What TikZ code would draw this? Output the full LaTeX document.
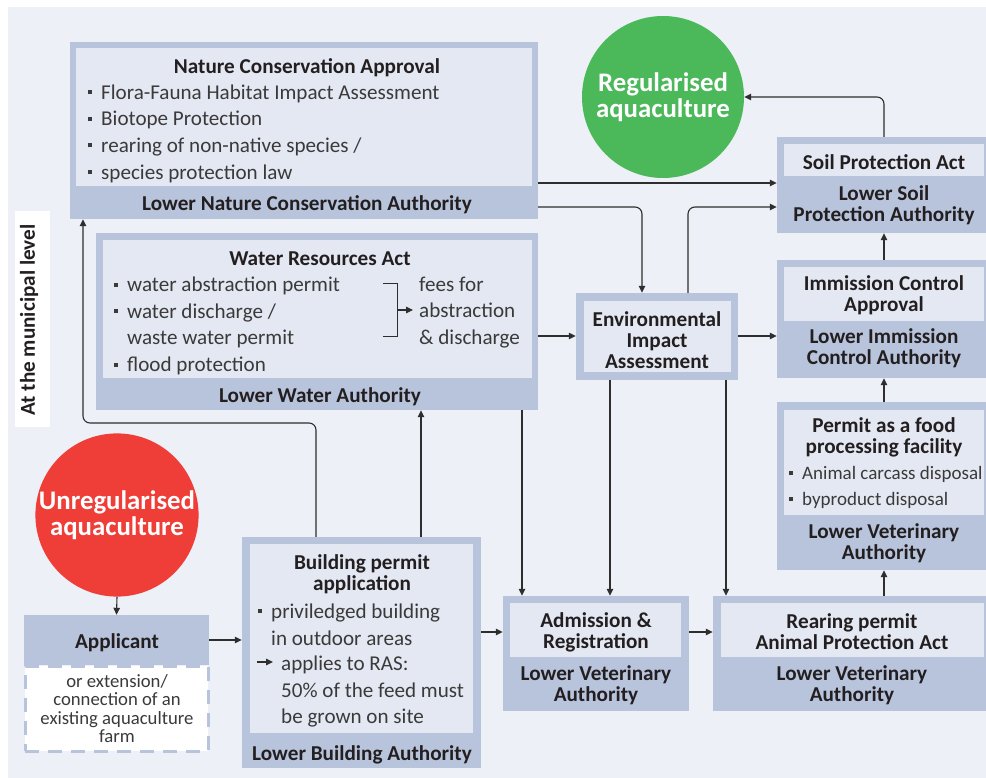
\documentclass[tikz,border=0pt]{standalone}
\usepackage{xcolor}
\usepackage{fontspec}
\setmainfont{Carlito}
\usepackage{tikz}
\usetikzlibrary{arrows.meta}

\definecolor{bgcol}{HTML}{EDF0F6}
\definecolor{outerblue}{HTML}{B8C4DC}
\definecolor{innerblue}{HTML}{E4E8F2}
\definecolor{txtdark}{HTML}{231F20}
\definecolor{txtlight}{HTML}{3A3A3A}
\definecolor{linegray}{HTML}{2E2E2E}
\definecolor{regreen}{HTML}{4BB85A}
\definecolor{unred}{HTML}{EE3E37}

\newcommand{\sqbul}{\rule[5pt]{4pt}{4pt}\hspace{9pt}}

\begin{document}
\begin{tikzpicture}[x=1pt, y=-1pt,
    outer/.style={fill=outerblue, inner sep=0pt},
    inner/.style={fill=innerblue, inner sep=0pt},
    head/.style={font=\bfseries\fontsize{21.2}{21}\selectfont, text=txtdark, align=center, inner sep=0pt, yshift=-2pt},
    items/.style={font=\fontsize{21.1}{26.6}\selectfont, text=txtlight, align=left, inner sep=0pt, anchor=west, yshift=-2.5pt},
    arr/.style={draw=linegray, line width=1.1pt, -{Triangle[length=7pt,width=6.5pt]}},
    circ/.style={circle, minimum size=162pt, inner sep=0pt, text=white, align=center,
      font=\bfseries\fontsize{26.8}{26}\selectfont}]
  \useasboundingbox (0,0) rectangle (986,778);
  \fill[bgcol] (8,7) rectangle (986,778);

  % side label
  \node[fill=white, minimum width=35pt, minimum height=216pt, inner sep=0pt] (levelbox) at (32.5,319) {};
  \node[head, rotate=90, yshift=2pt] (level) at (31,318) {At the municipal level};

  % circles
  \node[circ, fill=regreen] (reg) at (663,97) {Regularised\\aquaculture};
  \node[circ, fill=unred] (unreg) at (117,515) {Unregularised\\aquaculture};

  % nature conservation
  \node[outer, minimum width=468pt, minimum height=177pt] (nca) at (304,130.5) {};
  \node[inner, minimum width=456pt, minimum height=138pt] (ncaIn) at (304,117) {};
  \node[head] (ncaT) at (307,66) {Nature Conservation Approval};
  \node[items] (ncaL) at (88,131) {\sqbul Flora-Fauna Habitat Impact Assessment\\
    \sqbul Biotope Protection\\ \sqbul rearing of non-native species /\\ \sqbul species protection law};
  \node[head] (ncaA) at (307,203) {Lower Nature Conservation Authority};

  % water resources
  \node[outer, minimum width=442pt, minimum height=177pt] (wra) at (317,321.5) {};
  \node[inner, minimum width=429pt, minimum height=138pt] (wraIn) at (317.5,309) {};
  \node[head] (wraT) at (320,257) {Water Resources Act};
  \node[items] (wraL) at (114,323.5) {\sqbul water abstraction permit\\ \sqbul water discharge /\\
    \phantom{\sqbul}waste water permit\\ \sqbul flood protection};
  \node[items] (fees) at (419,310) {fees for\\abstraction\\\& discharge};
  \draw[linegray, line width=0.8pt] (383,283) -| (397,336) -- (383,336);
  \draw[arr, shorten >=6pt] (397,310) -- (fees.west |- 0,310);
  \node[head] (wraA) at (320,395) {Lower Water Authority};

  % environmental impact assessment
  \node[outer, minimum width=162pt, minimum height=87pt] (eia) at (657,336.5) {};
  \node[inner, minimum width=147pt, minimum height=71pt] (eiaIn) at (657.5,336.5) {};
  \node[head] (eiaT) at (657,338) {Environmental\\Impact\\Assessment};

  % soil protection
  \node[outer, minimum width=209pt, minimum height=96pt] (soil) at (881.5,185) {};
  \node[inner, minimum width=200pt, minimum height=32pt] (soilIn) at (884,160) {};
  \node[head] (soilT) at (884,160) {Soil Protection Act};
  \node[head] (soilA) at (884,203) {Lower Soil\\Protection Authority};

  % immission control
  \node[outer, minimum width=209pt, minimum height=118pt] (imm) at (881.5,319) {};
  \node[inner, minimum width=200pt, minimum height=54pt] (immIn) at (884,294) {};
  \node[head] (immT) at (884,293) {Immission Control\\Approval};
  \node[head] (immA) at (884,346) {Lower Immission\\Control Authority};

  % food processing
  \node[outer, minimum width=209pt, minimum height=168pt] (food) at (881.5,486) {};
  \node[inner, minimum width=200pt, minimum height=105pt] (foodIn) at (884,462.5) {};
  \node[head] (foodT) at (884,435) {Permit as a food\\processing facility};
  \node[items, font=\fontsize{19}{26}\selectfont] (foodL) at (789,485)
    {\sqbul Animal carcass disposal\\ \sqbul byproduct disposal};
  \node[head] (foodA) at (884,541) {Lower Veterinary\\Authority};

  % admission
  \node[outer, minimum width=186pt, minimum height=115pt] (adm) at (596,653.5) {};
  \node[inner, minimum width=171pt, minimum height=54pt] (admIn) at (595.5,630) {};
  \node[head] (admT) at (596,630) {Admission \&\\Registration};
  \node[head] (admA) at (596,683) {Lower Veterinary\\Authority};

  % rearing permit
  \node[outer, minimum width=273pt, minimum height=115pt] (rear) at (849.5,653.5) {};
  \node[inner, minimum width=263pt, minimum height=54pt] (rearIn) at (852.5,630) {};
  \node[head] (rearT) at (852,630) {Rearing permit\\Animal Protection Act};
  \node[head] (rearA) at (852,683) {Lower Veterinary\\Authority};

  % building permit
  \node[outer, minimum width=239pt, minimum height=231pt] (bp) at (361.5,652.5) {};
  \node[inner, minimum width=223pt, minimum height=189pt] (bpIn) at (361.5,638.5) {};
  \node[head] (bpT) at (362,572) {Building permit\\application};
  \node[items] (bpL) at (258,622) {\sqbul priviledged building\\ \phantom{\sqbul}in outdoor areas};
  \node[items] (ras) at (281,689) {applies to RAS:\\50\% of the feed must\\be grown on site};
  \draw[arr, shorten >=8pt] (257,662) -- (ras.west |- 0,662);
  \node[head] (bpA) at (362,753) {Lower Building Authority};

  % applicant
  \node[outer, minimum width=185pt, minimum height=50pt] (app) at (116.5,640) {};
  \node[head] (appT) at (117,641) {Applicant};
  \node[fill=white, draw=outerblue, line width=3pt, dash pattern=on 14pt off 9pt,
    minimum width=183pt, minimum height=85pt, inner sep=0pt] (appNote) at (116.5,708.5) {};
  \node[align=center, inner sep=0pt, text=txtlight, font=\fontsize{18.7}{18.5}\selectfont] (appN) at (117,708.5)
    {or extension/\\connection of an\\existing aquaculture\\farm};

  % connectors
  \draw[arr] (unreg.south) -- (app.north);
  \draw[arr] (app.east) -- (bp.west |- app.east);
  \draw[arr, rounded corners=7pt] (bp.north -| 316,0) |- (83,423) -- (nca.south -| 83,0);
  \draw[arr] (bp.north -| 421,0) -- (wra.south -| 421,0);
  \draw[arr] (bp.east |- 0,632) -- (adm.west |- 0,632);
  \draw[arr] (wra.east |- 0,336) -- (eia.west |- 0,336);
  \draw[arr] (wra.south -| 522,0) -- (adm.north -| 522,0);
  \draw[arr] (eia.south -| 610,0) -- (adm.north -| 610,0);
  \draw[arr] (eia.south -| 726,0) -- (rear.north -| 726,0);
  \draw[arr] (adm.east |- 0,632) -- (rear.west |- 0,632);
  \draw[arr] (eia.east |- 0,336) -- (imm.west |- 0,336);
  \draw[arr] (nca.east |- 0,183) -- (soil.west |- 0,183);
  \draw[arr, rounded corners=7pt] (nca.east |- 0,207) -| (eia.north -| 642,0);
  \draw[arr, rounded corners=7pt] (eia.north -| 688,0) |- (soil.west |- 0,207);
  \draw[arr, rounded corners=7pt] (soil.north -| 884,0) |- (reg.east);
  \draw[arr] (imm.north -| 884,0) -- (soil.south -| 884,0);
  \draw[arr] (food.north -| 884,0) -- (imm.south -| 884,0);
  \draw[arr] (rear.north -| 884,0) -- (food.south -| 884,0);
\end{tikzpicture}
\end{document}
